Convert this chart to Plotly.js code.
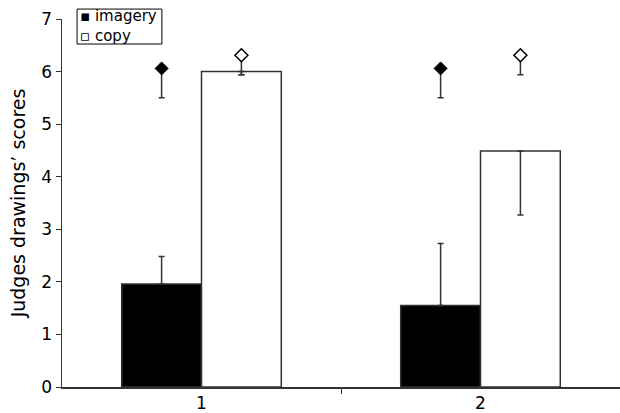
<!DOCTYPE html>
<html>
<head>
<meta charset="utf-8">
<script src="https://cdn.plot.ly/plotly-3.0.1.min.js"></script>
<style>html,body{margin:0;padding:0;background:#fff}#chart{width:620px;height:413px}</style>
</head>
<body>
<div id="chart"></div>
<script>
var categories = ["1", "2"];
var seriesNames = ["imagery", "copy"];
var imageryScores = [1.96, 1.55];
var imageryErrPlus = [0.52, 1.18];
var copyScores = [6.0, 4.49];
var copyErrMinus = [0.06, 1.22];
var imageryMarkers = [6.06, 6.06];
var imageryMarkerErrMinus = [0.56, 0.56];
var copyMarkers = [6.31, 6.31];
var copyMarkerErrMinus = [0.37, 0.37];

var BW = 0.286;
var idx = categories.map(function (c, i) { return i; });
var zeros = idx.map(function () { return 0; });
var errStyle = {color: '#333', thickness: 1.5, width: 3};

var traces = [
  {type: 'bar', name: seriesNames[0], x: idx, y: imageryScores, width: BW, offset: -BW,
   marker: {color: '#000', line: {color: '#333', width: 1.5}},
   error_y: Object.assign({type: 'data', symmetric: false, array: imageryErrPlus, arrayminus: zeros}, errStyle)},
  {type: 'bar', name: seriesNames[1], x: idx, y: copyScores, width: BW, offset: 0,
   marker: {color: '#fff', line: {color: '#333', width: 1.5}},
   error_y: Object.assign({type: 'data', symmetric: false, array: zeros, arrayminus: copyErrMinus}, errStyle)},
  {type: 'scatter', mode: 'markers', x: idx.map(function (i) { return i - BW / 2; }), y: imageryMarkers,
   marker: {symbol: 'diamond', size: 10, color: '#000', line: {color: '#000', width: 1}},
   error_y: Object.assign({type: 'data', symmetric: false, array: zeros, arrayminus: imageryMarkerErrMinus}, errStyle)},
  {type: 'scatter', mode: 'markers', x: idx.map(function (i) { return i + BW / 2; }), y: copyMarkers,
   marker: {symbol: 'diamond', size: 10, color: '#fff', line: {color: '#000', width: 1.5}},
   error_y: Object.assign({type: 'data', symmetric: false, array: zeros, arrayminus: copyMarkerErrMinus}, errStyle)}
];

var layout = {
  width: 620, height: 413,
  margin: {l: 62, r: 0, t: 19, b: 26, pad: 0},
  paper_bgcolor: '#fff', plot_bgcolor: '#fff',
  font: {family: 'DejaVu Sans, Verdana, sans-serif', color: '#000', size: 17},
  showlegend: false,
  shapes: [
    {type: 'rect', xref: 'paper', yref: 'paper', x0: 0.027, x1: 0.179, y0: 0.932, y1: 1.027,
     line: {color: '#000', width: 1}, fillcolor: '#fff', layer: 'above'}
  ],
  annotations: [
    {xref: 'paper', yref: 'paper', x: 0.031, y: 0.98, xanchor: 'left', yanchor: 'middle', showarrow: false,
     align: 'left', borderpad: 0,
     text: '\u25AA ' + seriesNames[0] + '<br>\u25AB ' + seriesNames[1], font: {size: 15}}
  ],
  xaxis: {range: [-0.5, 1.5], tickmode: 'array', tickvals: idx, ticktext: categories,
          ticks: '', showline: true, linecolor: '#333', linewidth: 1.5, showgrid: false, zeroline: false,
          tickfont: {size: 17},
          minor: {tickmode: 'array', tickvals: [0.5], ticks: 'outside', ticklen: 5, tickcolor: '#333', tickwidth: 1, showgrid: false}},
  yaxis: {range: [0, 7], dtick: 1, ticks: 'outside', ticklen: 5, tickcolor: '#333', showline: true,
          linecolor: '#333', linewidth: 1.5, showgrid: false, zeroline: false, tickfont: {size: 17},
          title: {text: 'Judges drawings\u2019 scores', font: {size: 19}, standoff: 10}}
};

Plotly.newPlot('chart', traces, layout, {displayModeBar: false, staticPlot: true});
</script>
</body>
</html>
